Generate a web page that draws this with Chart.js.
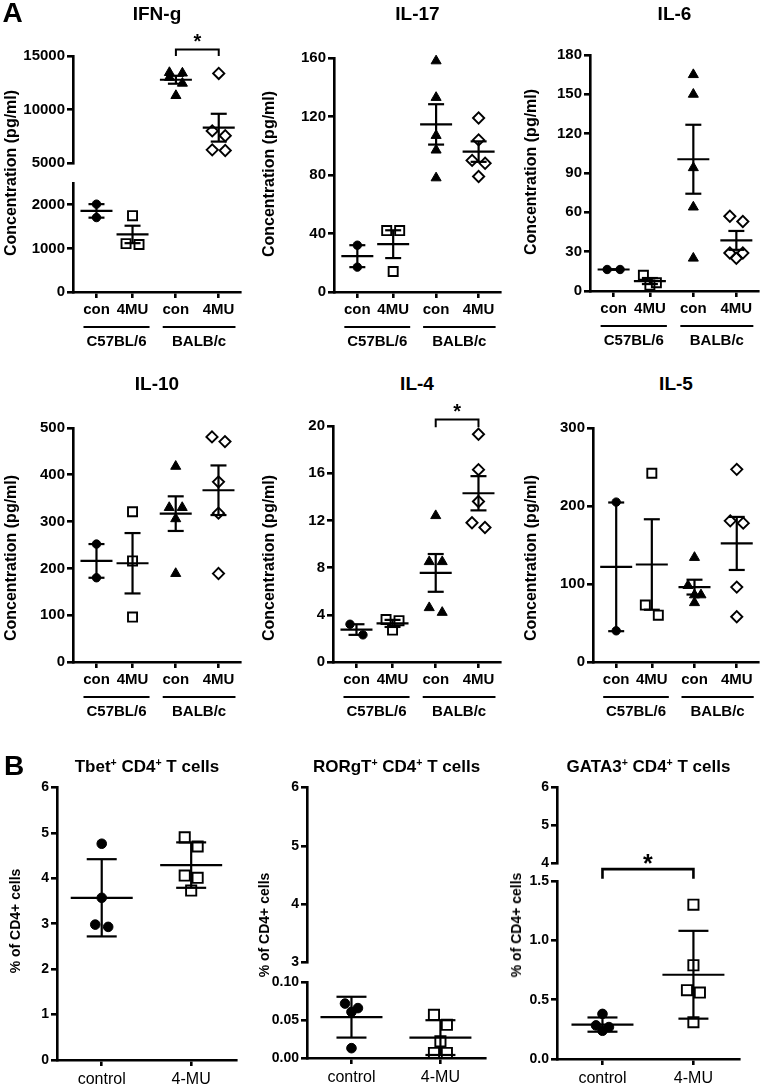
<!DOCTYPE html>
<html>
<head>
<meta charset="utf-8">
<script src="https://cdn.jsdelivr.net/npm/chart.js@4.4.1/dist/chart.umd.min.js"></script>
<style>
  body { margin: 0; background: #fff; width: 762px; height: 1091px; position: relative; overflow: hidden;
         font-family: Arial, "Liberation Sans", sans-serif; color: #000; }
  canvas { position: absolute; }
  .lbl { position: absolute; transform: translate(-50%, -50%); white-space: nowrap; font-weight: bold; line-height: 1; }
  .ylbl { position: absolute; transform: translate(-50%, -50%) rotate(-90deg); white-space: nowrap; font-weight: bold; line-height: 1; }
  sup { font-size: 0.62em; vertical-align: 0.55em; line-height: 0; }
</style>
</head>
<body>
<script>
// ---- data ----
const cytoGroups = ['con', '4MU', 'con', '4MU'];
const strains = ['C57BL/6', 'BALB/c'];
const cellGroups = ['control', '4-MU'];

// panel A, mean +/- SEM
const ifngPts = [[2015, 1707], [1750, 1090, 1110], [13450, 13400, 13000, 12450, 11300], [13370, 8000, 7550, 6230, 6170]];
const ifngMean = [1860, 1320, 12780, 8300];
const ifngSem = [155, 200, 370, 1300];
const ifngUpperTicks = [5000, 10000, 15000];
const ifngLowerTicks = [0, 1000, 2000];
const ifngSig = [2, 3, 15600, 15000, 16750];

const il17Pts = [[32, 17], [42, 42, 14], [158, 133, 107, 97, 78], [119, 104, 90, 88, 79]];
const il17Mean = [24.5, 32.7, 114.6, 96];
const il17Sem = [7.5, 9.5, 13.8, 7];
const il17Ticks = [0, 40, 80, 120, 160];

const il6Pts = [[16.4, 16.4], [12, 6.3, 4.5], [165, 150, 94, 64, 25], [57, 53, 29, 29, 25]];
const il6Mean = [16.4, 7.6, 100.5, 38.6];
const il6Sem = [0.2, 2.3, 26.3, 7.2];
const il6Ticks = [0, 30, 60, 90, 120, 150, 180];

const il10Pts = [[252, 180], [321, 216, 96], [418, 330, 330, 306, 189], [481, 471, 385, 318, 189]];
const il10Mean = [216, 211, 317, 367];
const il10Sem = [36, 64.5, 37, 53];
const il10Ticks = [0, 100, 200, 300, 400, 500];

const il4Pts = [[3.2, 2.3], [3.6, 3.5, 2.7], [12.4, 8.5, 8.5, 4.6, 4.2], [19.3, 16.3, 13.6, 11.8, 11.4]];
const il4Mean = [2.75, 3.27, 7.55, 14.3];
const il4Sem = [0.45, 0.3, 1.6, 1.45];
const il4Ticks = [0, 4, 8, 12, 16, 20];
const il4Sig = [2, 3, 20.55, 19.9, 21.6];

const il5Pts = [[205, 40], [242, 73, 60], [134, 98, 86, 86, 76], [247, 181, 178, 96, 58]];
const il5Mean = [122, 125, 96, 152];
const il5Sem = [82.5, 58, 9.5, 34];
const il5Ticks = [0, 100, 200, 300];

// panel B, mean +/- SD
const tbetPts = [[4.76, 3.57, 2.98, 2.93], [4.9, 4.7, 4.06, 4.01, 3.73]];
const tbetMean = [3.57, 4.29];
const tbetSd = [0.85, 0.5];
const tbetTicks = [0, 1, 2, 3, 4, 5, 6];

const rorPts = [[0.072, 0.066, 0.061, 0.013], [0.057, 0.044, 0.022, 0.0066, 0.0066]];
const rorMean = [0.054, 0.027];
const rorSd = [0.027, 0.023];
const rorUpperTicks = [3, 4, 5, 6];
const rorLowerTicks = [0, 0.05, 0.1];
const rorLowerLabels = ['0.00', '0.05', '0.10'];

const gataPts = [[0.38, 0.283, 0.269, 0.238], [1.3, 0.79, 0.58, 0.56, 0.31]];
const gataMean = [0.29, 0.71];
const gataSd = [0.06, 0.37];
const gataUpperTicks = [4, 5, 6];
const gataLowerTicks = [0, 0.5, 1, 1.5];
const gataLowerLabels = ['0.0', '0.5', '1.0', '1.5'];
const gataSig = [0, 1, 1.6, 1.52, 1.69];

// ---- drawing ----
const FONT = 'Arial, "Liberation Sans", sans-serif';
Chart.defaults.font.family = FONT;
Chart.defaults.color = '#000';

const xPosA = [0.56, 1.42, 2.45, 3.47];
const xPosB = [0.5, 1.5];

const symA = [
  { pointStyle: 'circle', pointRadius: 4.2, fill: '#000' },
  { pointStyle: 'rect', pointRadius: 6.4, fill: 'rgba(0,0,0,0)' },
  { pointStyle: 'triangle', pointRadius: 5.8, fill: '#000' },
  { pointStyle: 'rectRot', pointRadius: 5.6, fill: 'rgba(0,0,0,0)' }
];
const symB = [
  { pointStyle: 'circle', pointRadius: 4.8, fill: '#000' },
  { pointStyle: 'rect', pointRadius: 7.2, fill: 'rgba(0,0,0,0)' }
];

// column scatter: points that sit close together go side by side
function spread(vals, pxPerUnit) {
  const idx = vals.map((v, i) => i).sort((a, b) => vals[b] - vals[a]);
  const off = vals.map(() => 0);
  let row = [];
  const flush = () => {
    row.forEach((i, k) => {
      if (row.length % 2 === 1 && k === row.length - 1) off[i] = 0;
      else off[i] = k % 2 === 0 ? -6.5 : 6.5;
    });
    row = [];
  };
  idx.forEach(i => {
    if (row.length && (vals[row[0]] - vals[i]) * pxPerUnit >= 11) flush();
    row.push(i);
  });
  flush();
  return off;
}

function plot(o) {
  const yW = 60, padR = 8;
  const padT = o.padT || 10;
  const xH = o.xLabels ? 30 : 0;
  const padB = o.xLabels ? (o.strains ? 36 : 8) : 10;
  const cv = document.createElement('canvas');
  cv.width = o.R - o.L + yW + padR;
  cv.height = o.B - o.T + padT + xH + padB;
  cv.style.left = (o.L - yW) + 'px';
  cv.style.top = (o.T - padT) + 'px';
  document.body.appendChild(cv);

  const pxPerUnit = (o.B - o.T) / (o.yMax - o.yMin);
  const xPerPx = o.xMax / (o.R - o.L);
  const groups = o.groups || [];

  const datasets = groups.map(g => {
    const s = o.sym[g.i];
    const off = spread(g.pts, pxPerUnit);
    return {
      data: g.pts.map((v, k) => ({ x: o.xPos[g.i] + off[k] * xPerPx, y: v })),
      pointStyle: s.pointStyle,
      pointRadius: s.pointRadius,
      pointBackgroundColor: s.fill,
      pointBorderColor: '#000',
      pointBorderWidth: s.fill === '#000' ? 1 : 1.9,
      showLine: false,
      clip: false
    };
  });

  const overlay = {
    id: 'overlay',
    afterDatasetsDraw(chart) {
      const { ctx, scales: { x, y }, chartArea } = chart;
      const seg = (x1, y1, x2, y2) => { ctx.beginPath(); ctx.moveTo(x1, y1); ctx.lineTo(x2, y2); ctx.stroke(); };
      ctx.save();
      ctx.strokeStyle = '#000';
      ctx.fillStyle = '#000';
      ctx.lineWidth = 2.2;
      groups.forEach(g => {
        const cx = x.getPixelForValue(o.xPos[g.i]);
        const ym = y.getPixelForValue(g.mean);
        const yt = y.getPixelForValue(g.mean + g.err);
        const yb = y.getPixelForValue(g.mean - g.err);
        seg(cx, yt, cx, yb);
        seg(cx - o.capW, yt, cx + o.capW, yt);
        seg(cx - o.capW, yb, cx + o.capW, yb);
        seg(cx - o.meanW, ym, cx + o.meanW, ym);
      });
      if (o.sig) {
        const [a, b, bar, drop, star] = o.sig;
        const xa = x.getPixelForValue(o.xPos[a]), xb = x.getPixelForValue(o.xPos[b]);
        const yb = y.getPixelForValue(bar), yd = y.getPixelForValue(drop);
        ctx.lineWidth = o.sigW || 2;
        ctx.beginPath();
        ctx.moveTo(xa, yd); ctx.lineTo(xa, yb); ctx.lineTo(xb, yb); ctx.lineTo(xb, yd);
        ctx.stroke();
        const fs = o.starSize || 20;
        ctx.font = 'bold ' + fs + 'px ' + FONT;
        ctx.textAlign = 'center';
        ctx.textBaseline = 'alphabetic';
        ctx.fillText('*', (xa + xb) / 2, y.getPixelForValue(star) + 0.56 * fs);
      }
      if (o.strains) {
        const yl = chartArea.bottom + 35, yt = chartArea.bottom + 50;
        ctx.lineWidth = 2;
        ctx.font = 'bold 15px ' + FONT;
        ctx.textAlign = 'center';
        ctx.textBaseline = 'middle';
        o.strains.forEach((s, k) => {
          const x1 = x.getPixelForValue(o.xPos[2 * k]) - 13;
          const x2 = x.getPixelForValue(o.xPos[2 * k + 1]) + 17;
          seg(x1, yl, x2, yl);
          ctx.fillText(s, (x1 + x2) / 2, yt);
        });
      }
      ctx.restore();
    }
  };

  new Chart(cv, {
    type: 'scatter',
    data: { datasets },
    options: {
      responsive: false,
      animation: false,
      events: [],
      layout: { padding: { left: 0, top: padT, right: padR, bottom: padB } },
      plugins: { legend: { display: false }, tooltip: { enabled: false } },
      scales: {
        x: {
          type: 'linear', min: 0, max: o.xMax, display: !!o.xLabels,
          afterBuildTicks: s => { s.ticks = o.xPos.map(v => ({ value: v })); },
          afterFit: s => { s.height = xH; },
          border: { color: '#000', width: 2.6 },
          grid: { drawOnChartArea: false, color: '#000', lineWidth: 2.6, tickLength: 6 },
          ticks: {
            autoSkip: false, maxRotation: 0, minRotation: 0, color: '#000',
            padding: o.xPad, font: o.xFont,
            callback: (v, i) => (o.xLabels ? o.xLabels[i] : '')
          }
        },
        y: {
          type: 'linear', min: o.yMin, max: o.yMax,
          afterBuildTicks: s => { s.ticks = o.ticks.map(v => ({ value: v })); },
          afterFit: s => { s.width = yW; },
          border: { color: '#000', width: 2.6 },
          grid: { drawOnChartArea: false, color: '#000', lineWidth: 2.6, tickLength: 6 },
          ticks: {
            color: '#000', padding: 2, font: o.yFont,
            callback: (v, i) => (o.tickLabels ? o.tickLabels[i] : String(v))
          }
        }
      }
    },
    plugins: [overlay]
  });
}

function groupsOf(pts, mean, err, which) {
  return which.map(i => ({ i, pts: pts[i], mean: mean[i], err: err[i] }));
}

const baseA = {
  xMax: 4, xPos: xPosA, sym: symA, meanW: 16, capW: 8,
  yFont: { weight: 'bold', size: 15 }, xFont: { weight: 'bold', size: 15 }, xPad: 3
};
const baseB = {
  xMax: 2, xPos: xPosB, sym: symB, meanW: 31, capW: 15,
  yFont: { weight: 'bold', size: 14 }, xFont: { weight: 'normal', size: 16 }, xPad: 4
};
const all4 = [0, 1, 2, 3];
const all2 = [0, 1];

// IFN-g (broken axis)
plot(Object.assign({}, baseA, { L: 73, R: 241, T: 56, B: 164, yMin: 5000, yMax: 15000, ticks: ifngUpperTicks,
  groups: groupsOf(ifngPts, ifngMean, ifngSem, [2, 3]), sig: ifngSig, padT: 32 }));
plot(Object.assign({}, baseA, { L: 73, R: 241, T: 182, B: 292, yMin: 0, yMax: 2500, ticks: ifngLowerTicks,
  groups: groupsOf(ifngPts, ifngMean, ifngSem, [0, 1]), xLabels: cytoGroups, strains }));
// IL-17
plot(Object.assign({}, baseA, { L: 334, R: 501, T: 57, B: 292, yMin: 0, yMax: 160, ticks: il17Ticks,
  groups: groupsOf(il17Pts, il17Mean, il17Sem, all4), xLabels: cytoGroups, strains }));
// IL-6
plot(Object.assign({}, baseA, { L: 590, R: 759, T: 54, B: 291, yMin: 0, yMax: 180, ticks: il6Ticks,
  groups: groupsOf(il6Pts, il6Mean, il6Sem, all4), xLabels: cytoGroups, strains }));
// IL-10
plot(Object.assign({}, baseA, { L: 73, R: 241, T: 427, B: 662, yMin: 0, yMax: 500, ticks: il10Ticks,
  groups: groupsOf(il10Pts, il10Mean, il10Sem, all4), xLabels: cytoGroups, strains }));
// IL-4
plot(Object.assign({}, baseA, { L: 333, R: 501, T: 426, B: 662, yMin: 0, yMax: 20, ticks: il4Ticks,
  groups: groupsOf(il4Pts, il4Mean, il4Sem, all4), xLabels: cytoGroups, strains, sig: il4Sig, padT: 32 }));
// IL-5
plot(Object.assign({}, baseA, { L: 593, R: 759, T: 427, B: 662, yMin: 0, yMax: 300, ticks: il5Ticks,
  groups: groupsOf(il5Pts, il5Mean, il5Sem, all4), xLabels: cytoGroups, strains }));

// Tbet
plot(Object.assign({}, baseB, { L: 57, R: 237, T: 787, B: 1060, yMin: 0, yMax: 6, ticks: tbetTicks,
  groups: groupsOf(tbetPts, tbetMean, tbetSd, all2), xLabels: cellGroups }));
// RORgT (broken axis)
plot(Object.assign({}, baseB, { L: 307, R: 486, T: 787, B: 963, yMin: 3, yMax: 6, ticks: rorUpperTicks, groups: [] }));
plot(Object.assign({}, baseB, { L: 307, R: 486, T: 982, B: 1058, yMin: 0, yMax: 0.1, ticks: rorLowerTicks,
  tickLabels: rorLowerLabels, groups: groupsOf(rorPts, rorMean, rorSd, all2), xLabels: cellGroups }));
// GATA3 (broken axis)
plot(Object.assign({}, baseB, { L: 557, R: 740, T: 787, B: 864, yMin: 4, yMax: 6, ticks: gataUpperTicks, groups: [] }));
plot(Object.assign({}, baseB, { L: 557, R: 740, T: 881, B: 1059, yMin: 0, yMax: 1.5, ticks: gataLowerTicks,
  tickLabels: gataLowerLabels, groups: groupsOf(gataPts, gataMean, gataSd, all2), xLabels: cellGroups,
  sig: gataSig, sigW: 2.6, starSize: 25, padT: 40 }));

// ---- text ----
function text(html, x, y, size, cls) {
  const d = document.createElement('div');
  d.className = cls || 'lbl';
  d.style.left = x + 'px';
  d.style.top = y + 'px';
  d.style.fontSize = size + 'px';
  d.innerHTML = html;
  document.body.appendChild(d);
}
text('A', 12.5, 13, 28);
text('B', 14, 766, 28);
text('IFN-g', 157, 13, 19);
text('IL-17', 417.5, 13, 19);
text('IL-6', 674.5, 13, 19);
text('IL-10', 157, 383, 19);
text('IL-4', 417, 383, 19);
text('IL-5', 676, 383, 19);
text('Tbet<sup>+</sup> CD4<sup>+</sup> T cells', 147, 766, 17);
text('RORgT<sup>+</sup> CD4<sup>+</sup> T cells', 396.5, 766, 17);
text('GATA3<sup>+</sup> CD4<sup>+</sup> T cells', 648.5, 766, 17);
const yTitleA = 'Concentration (pg/ml)';
text(yTitleA, 11, 173, 16, 'ylbl');
text(yTitleA, 269, 174, 16, 'ylbl');
text(yTitleA, 531, 172, 16, 'ylbl');
text(yTitleA, 11, 558, 16, 'ylbl');
text(yTitleA, 269, 558, 16, 'ylbl');
text(yTitleA, 531, 558, 16, 'ylbl');
const yTitleB = '% of CD4+ cells';
text(yTitleB, 15, 921, 14, 'ylbl');
text(yTitleB, 264, 925, 14, 'ylbl');
text(yTitleB, 516, 925, 14, 'ylbl');
</script>
</body>
</html>
